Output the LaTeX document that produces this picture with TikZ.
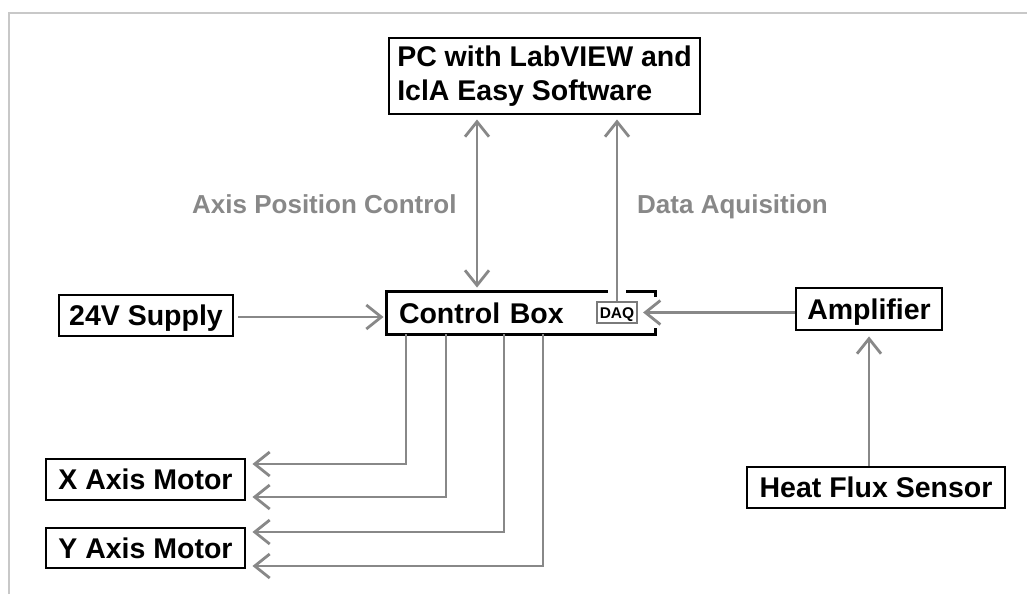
\documentclass[tikz,border=0pt]{standalone}
\usepackage{fontspec}
\setmainfont{Liberation Sans}
\usetikzlibrary{arrows.meta,calc}

\definecolor{wirec}{HTML}{888888}
\definecolor{daqc}{HTML}{7A7A7A}
\definecolor{framec}{HTML}{C8C8C8}

\begin{document}
\begin{tikzpicture}[x=1pt,y=-1pt,
  box/.style={draw=black, line width=2.9pt, inner xsep=0pt, inner ysep=0pt,
    font=\bfseries\fontsize{28.5}{34}\selectfont, text height=20.4pt, text depth=0pt},
  pcbox/.style={draw=black, line width=2.9pt, inner xsep=0pt, inner ysep=0pt,
    font=\bfseries\fontsize{28.5}{34}\selectfont, align=left},
  daqbox/.style={draw=daqc, line width=2.2pt, inner sep=0pt,
    font=\bfseries\fontsize{15.5}{17}\selectfont, text height=11.1pt, text depth=0pt},
  boxline/.style={draw=black, line width=2.9pt},
  wire/.style={draw=wirec, line width=2.8pt},
  barb/.tip={Straight Barb[length=15pt,width=24pt,line width=2.8pt]},
  tip/.style={-barb},
  lbl/.style={text=wirec, font=\bfseries\fontsize{26}{30}\selectfont, inner sep=0pt, anchor=base west}
]
\useasboundingbox (0,0) rectangle (1027,594);

% frame lines along the top and left
\draw[framec, line width=2pt] (9,594) -- (9,13) -- (1027,13);

% blocks
\node[pcbox, minimum width=311, minimum height=76] (pc) at (544.5,76)
  {PC with LabVIEW and\\IclA Easy Software};
\node[box, draw=none, minimum width=266, minimum height=40, inner xsep=11pt,
  text width=244pt, align=left] (ctl) at (521,313) {Control Box};
\node[daqbox, minimum width=40, minimum height=21] (dq) at (617,312.5) {DAQ};
\node[box, minimum width=174, minimum height=41] (sup) at (146,315.5) {24V Supply};
\node[box, minimum width=146, minimum height=42] (amp) at (869,309) {Amplifier};
\node[box, minimum width=258, minimum height=41] (hfs) at (876,487.5) {Heat Flux Sensor};
\node[box, minimum width=199, minimum height=41] (xm) at (145.5,479.5) {X Axis Motor};
\node[box, minimum width=199, minimum height=40] (ym) at (145.5,548) {Y Axis Motor};

% control box outline, open where lines pass through
\coordinate (gl) at (ctl.north -| dq);
\draw[boxline] ($(gl)+(9,0)$) -- (ctl.north east) -- ++(0,5);
\draw[boxline] ($(ctl.south east)+(0,-6)$) -- (ctl.south east) -- (ctl.south west)
  -- (ctl.north west) -- ($(gl)+(-9,0)$);

% labels
\node[lbl] (lapc) at (192,213) {Axis Position Control};
\node[lbl] (ldaq) at (637,213) {Data Aquisition};

% connectors
\coordinate (apc) at (477,200);
\draw[wire, barb-barb, shorten <=4pt, shorten >=4pt] (pc.south -| apc) -- (ctl.north -| apc);
\draw[wire, tip, shorten >=4pt] (dq.north) -- (dq.north |- pc.south);

\coordinate (s1) at (0,317);
\draw[wire, tip, shorten <=4pt, shorten >=3pt] (sup.east |- s1) -- (ctl.west |- s1);
\draw[wire, tip, shorten >=5pt] (amp.west |- dq) -- (dq.east);
\draw[wire, tip, shorten >=5pt] (hfs.north -| amp) -- (amp.south);

\coordinate (k1) at (406,464);
\coordinate (k2) at (446,497);
\coordinate (k3) at (504,532);
\coordinate (k4) at (543,566);
\draw[wire, tip, shorten >=6pt] (ctl.south -| k1) -- (k1) -- (xm.east |- k1);
\draw[wire, tip, shorten >=6pt] (ctl.south -| k2) -- (k2) -- (xm.east |- k2);
\draw[wire, tip, shorten >=6pt] (ctl.south -| k3) -- (k3) -- (ym.east |- k3);
\draw[wire, tip, shorten >=6pt] (ctl.south -| k4) -- (k4) -- (ym.east |- k4);
\end{tikzpicture}
\end{document}
